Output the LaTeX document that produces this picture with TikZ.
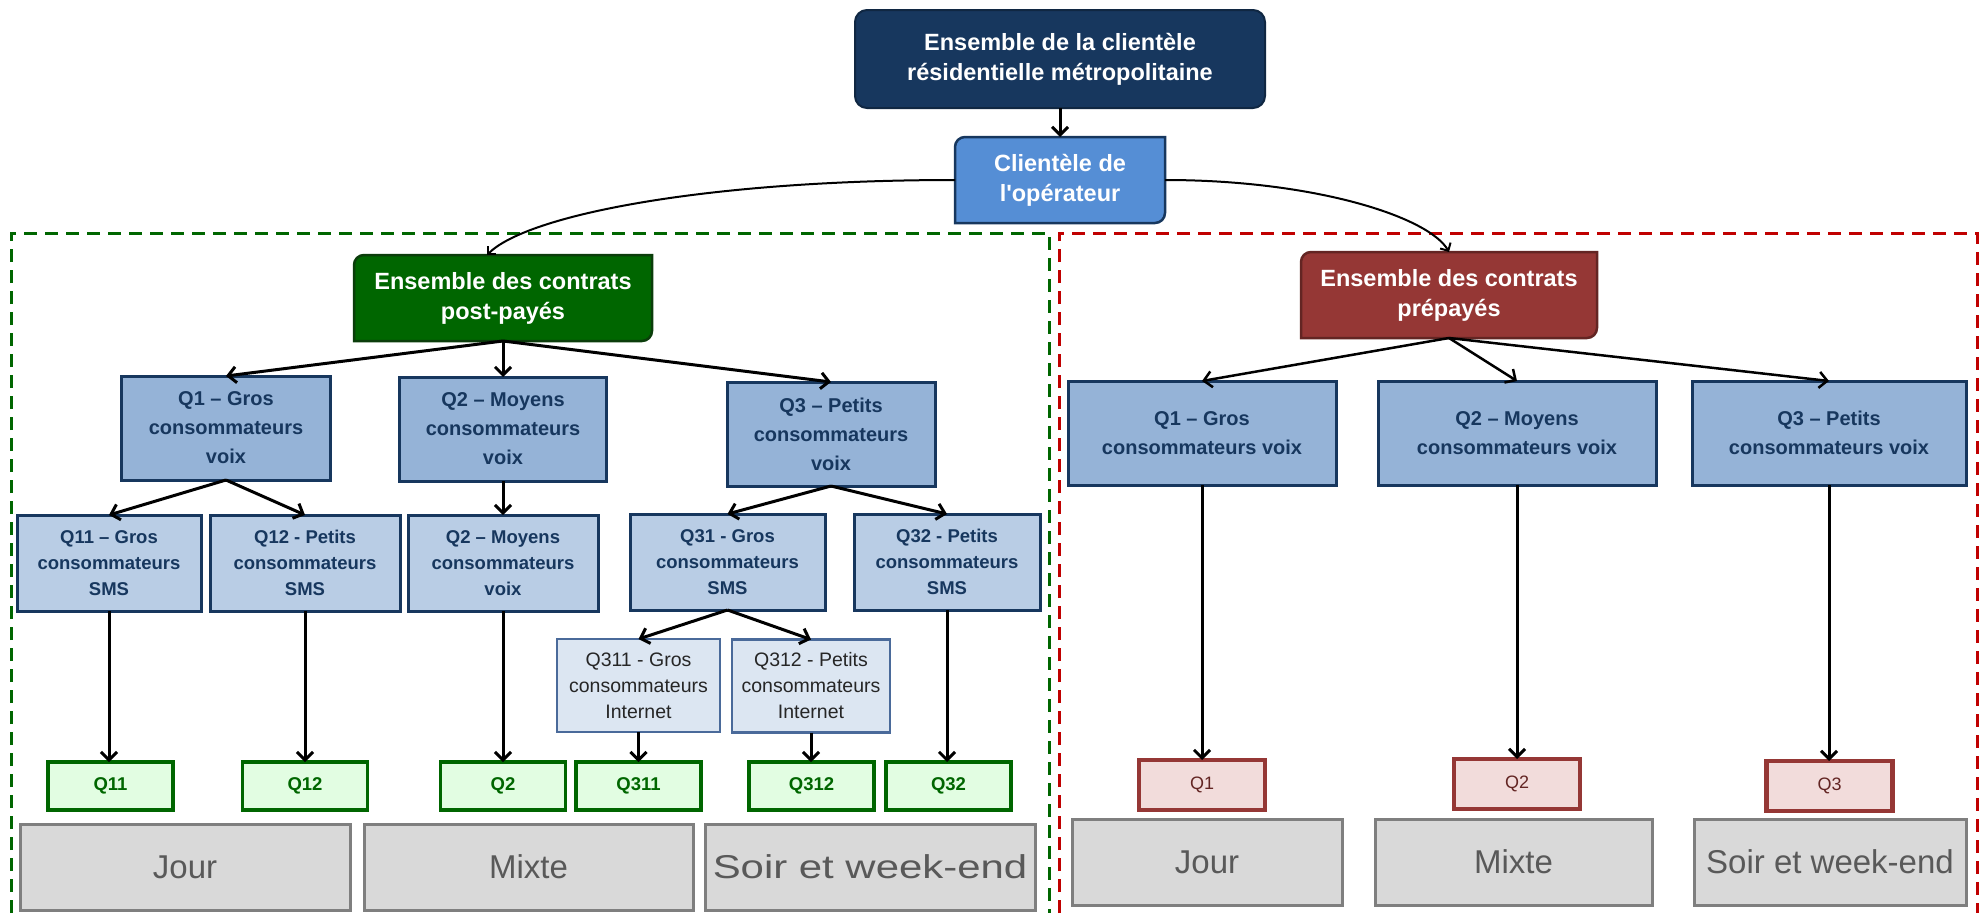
\documentclass[tikz,border=0pt]{standalone}
\usepackage{graphicx}
\usepackage{fontspec}
\setmainfont{Liberation Sans}
\usetikzlibrary{arrows.meta,backgrounds}

\definecolor{bleunuit}{HTML}{17375E}
\definecolor{bleuop}{HTML}{558ED5}
\definecolor{bleuq}{HTML}{95B3D7}
\definecolor{bleusms}{HTML}{B9CDE5}
\definecolor{bleunet}{HTML}{DCE6F2}
\definecolor{bordnet}{HTML}{4A6A9A}
\definecolor{vertfonce}{HTML}{006600}
\definecolor{vertbord}{HTML}{0B3D0B}
\definecolor{vertclair}{HTML}{E2FDE2}
\definecolor{rougefonce}{HTML}{953735}
\definecolor{rougeclair}{HTML}{F2DCDB}
\definecolor{rougetexte}{HTML}{632523}
\definecolor{rougetrait}{HTML}{C00000}
\definecolor{grisfond}{HTML}{D9D9D9}
\definecolor{gristrait}{HTML}{7F7F7F}
\definecolor{gristexte}{HTML}{595959}

% rectangle avec deux coins arrondis (haut gauche, bas droite)
\newcommand\coinsronds[2]{%
  \begin{scope}[on background layer]
    \draw[#2] ([xshift=10pt]#1.north west) -- (#1.north east)
      -- ([yshift=10pt]#1.south east) arc[start angle=0,end angle=-90,radius=10pt]
      -- (#1.south west) -- ([yshift=-10pt]#1.north west)
      arc[start angle=180,end angle=90,radius=10pt] -- cycle;
  \end{scope}}

\begin{document}
\begin{tikzpicture}[x=1pt,y=-1pt,>={Straight Barb[length=8pt,width=16pt]},
  boite/.style={rectangle,outer sep=0pt,inner sep=0pt,align=center},
  titre/.style={boite,fill=bleunuit,draw=bleunuit!70!black,line width=2pt,rounded corners=12pt,
    text=white,font=\bfseries\fontsize{23.5}{30}\selectfont,minimum width=410,minimum height=98},
  entete/.style={boite,text=white,font=\bfseries\fontsize{23.5}{30}\selectfont,minimum height=86},
  qbox/.style={boite,fill=bleuq,draw=bleunuit,line width=3pt,text=bleunuit,
    font=\bfseries\fontsize{20}{29}\selectfont,minimum height=104},
  smsbox/.style={boite,fill=bleusms,draw=bleunuit,line width=3pt,text=bleunuit,
    font=\bfseries\fontsize{18.5}{26}\selectfont,minimum height=96},
  netbox/.style={boite,fill=bleunet,draw=bordnet,line width=2.5pt,text=black!85,
    font=\fontsize{19.5}{26}\selectfont,minimum height=93},
  vert/.style={boite,fill=vertclair,draw=vertfonce,line width=3.5pt,text=vertfonce,
    font=\bfseries\fontsize{18.5}{22}\selectfont,minimum width=125,minimum height=48},
  rouge/.style={boite,fill=rougeclair,draw=rougefonce,line width=4.5pt,text=rougetexte,
    font=\fontsize{18}{22}\selectfont,minimum width=126,minimum height=50},
  gris/.style={boite,fill=grisfond,draw=gristrait,line width=3pt,text=gristexte,
    font=\fontsize{33}{36}\selectfont,minimum height=86},
  fleche/.style={->,line width=3pt},
  courbe/.style={->,line width=2pt,>={Straight Barb[length=6pt,width=12pt]}}]
  \useasboundingbox (0,0) rectangle (1988,913);
  % cadres
  \draw[vertfonce,line width=3pt,dash pattern=on 13pt off 8pt] (11,913) -- (11,233) -- (1049,233) -- (1049,913);
  \draw[rougetrait,line width=3pt,dash pattern=on 13pt off 8pt] (1059,913) -- (1059,233) -- (1977,233) -- (1977,913);
  % haut
  \node[titre] (titre) at (1060,59) {Ensemble de la clientèle\\résidentielle métropolitaine};
  \node[entete,minimum width=210] (cli) at (1060,180) {Clientèle de\\l\textquotesingle opérateur};
  \coinsronds{cli}{fill=bleuop,draw=bleunuit,line width=2.5pt}
  \node[entete,minimum width=298] (post) at (503,298) {Ensemble des contrats\\post-payés};
  \coinsronds{post}{fill=vertfonce,draw=vertbord,line width=2.5pt}
  \node[entete,minimum width=296] (pre) at (1449,295) {Ensemble des contrats\\prépayés};
  \coinsronds{pre}{fill=rougefonce,draw=rougetexte,line width=2.5pt}
  \draw[fleche] (titre.south) -- (cli.north);
  \draw[courbe] (cli.west) .. controls +(-250,0) and +(40,-40) .. ([xshift=-16pt]post.north);
  \draw[courbe] (cli.east) .. controls +(150,0) and +(-20,-35) .. (pre.north);
  % post-payes
  \node[qbox,minimum width=209] (gq1) at (226,428) {Q1 – Gros\\consommateurs\\voix};
  \node[qbox,minimum width=207] (gq2) at (503,429) {Q2 – Moyens\\consommateurs\\voix};
  \node[qbox,minimum width=208] (gq3) at (831,434) {Q3 – Petits\\consommateurs\\voix};
  \node[smsbox,minimum width=184] (g11) at (109,563) {Q11 – Gros\\consommateurs\\SMS};
  \node[smsbox,minimum width=190] (g12) at (305,563) {Q12 - Petits\\consommateurs\\SMS};
  \node[smsbox,minimum width=190] (g2) at (503,563) {Q2 – Moyens\\consommateurs\\voix};
  \node[smsbox,minimum width=195] (g31) at (727.5,562) {Q31 - Gros\\consommateurs\\SMS};
  \node[smsbox,minimum width=186] (g32) at (947,562) {Q32 - Petits\\consommateurs\\SMS};
  \node[netbox,minimum width=163] (g311) at (638.5,685.5) {Q311 - Gros\\consommateurs\\Internet};
  \node[netbox,minimum width=158] (g312) at (811,686) {Q312 - Petits\\consommateurs\\Internet};
  \foreach \n/\x in {11/110.5,12/305,2/503,311/638.5,312/811.5,32/948.5}
    \node[vert] (v\n) at (\x,786) {Q\n};
  \node[gris,minimum width=330] (gjour) at (185,867) {Jour};
  \node[gris,minimum width=329] (gmixte) at (528.5,867) {Mixte};
  \node[gris,minimum width=330] (gsoir) at (870,867) {\scalebox{1.27}[1]{Soir et week-end}};
  \foreach \a/\b in {post/gq1,post/gq2,post/gq3,gq1/g11,gq1/g12,gq2/g2,gq3/g31,gq3/g32,g31/g311,g31/g312}
    \draw[fleche] (\a.south) -- (\b.north);
  \foreach \a/\b in {g11/v11,g12/v12,g2/v2,g311/v311,g312/v312,g32/v32}
    \draw[fleche] (\a.south) -- (\a.south |- \b.north);
  % prepayes
  \node[qbox,minimum width=268] (dq1) at (1202,433) {Q1 – Gros\\consommateurs voix};
  \node[qbox,minimum width=278] (dq2) at (1517,433) {Q2 – Moyens\\consommateurs voix};
  \node[qbox,minimum width=274] (dq3) at (1829,433) {Q3 – Petits\\consommateurs voix};
  \node[rouge] (r1) at (1202,785) {Q1};
  \node[rouge] (r2) at (1517,784) {Q2};
  \node[rouge] (r3) at (1829.5,786) {Q3};
  \node[gris,minimum width=270] (djour) at (1207,862) {Jour};
  \node[gris,minimum width=277] (dmixte) at (1513.5,862) {Mixte};
  \node[gris,minimum width=272] (dsoir) at (1830,862) {Soir et week-end};
  \foreach \b in {dq1,dq2,dq3}
    \draw[fleche,line width=2.5pt] (pre.south) -- (\b.north);
  \foreach \a/\b in {dq1/r1,dq2/r2,dq3/r3}
    \draw[fleche] (\a.south) -- (\a.south |- \b.north);
\end{tikzpicture}
\end{document}
